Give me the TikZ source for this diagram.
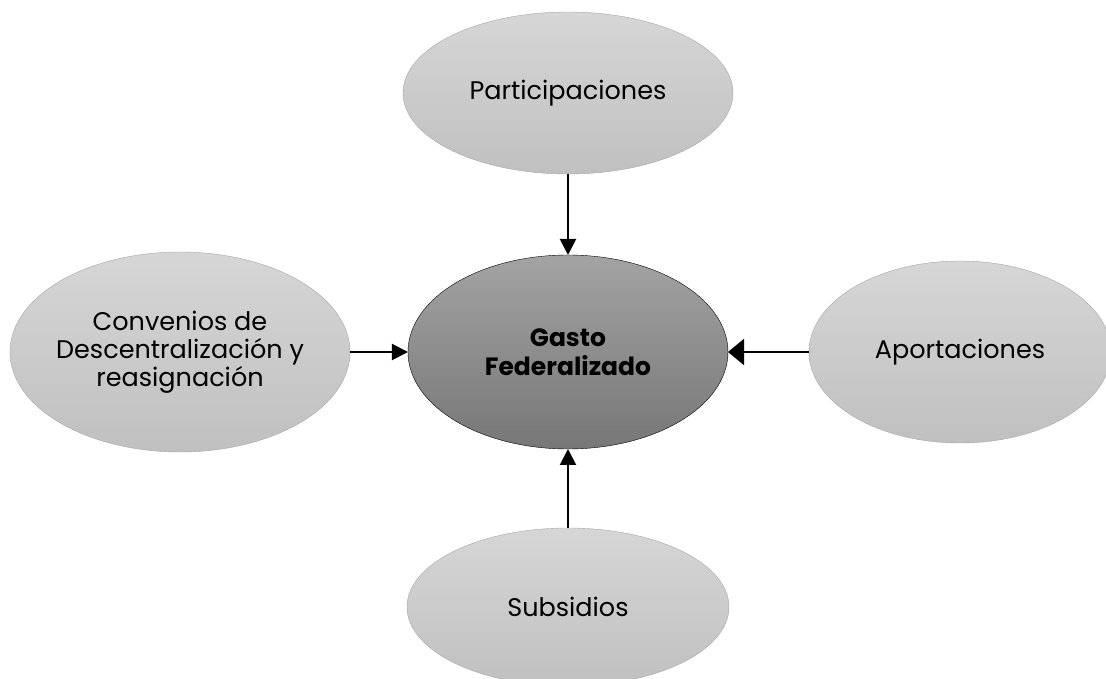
\documentclass[tikz,border=0pt]{standalone}
\usepackage{fontspec}
\setmainfont{Poppins}
\usepackage{tikz}
\usepackage{tkz-graph}
\usetikzlibrary{shapes.geometric,arrows.meta}
\definecolor{sourceTop}{HTML}{D6D6D6}
\definecolor{sourceBottom}{HTML}{C0C0C0}
\definecolor{sourceBorder}{HTML}{A6A6A6}
\definecolor{hubTop}{HTML}{A3A3A3}
\definecolor{hubBottom}{HTML}{777777}
\tikzset{
	every source/.style={
		ellipse,
		draw=sourceBorder,
		top color=sourceTop,
		bottom color=sourceBottom,
		inner sep=0pt,
		align=center,
		text=black,
		font=\fontsize{25.5}{28}\selectfont
	},
	every hub/.style={
		ellipse,
		draw=black,
		top color=hubTop,
		bottom color=hubBottom,
		minimum width=320pt,
		minimum height=194pt,
		inner sep=0pt,
		align=center,
		text=black,
		font=\fontsize{25}{29}\selectfont\bfseries
	},
}

\begin{document}
\begin{tikzpicture}[x=1pt,y=1pt]
\SetVertexNoMath
\useasboundingbox (-568,-327) rectangle (538,352);
\tikzset{VertexStyle/.style = {every source, minimum width=330pt, minimum height=162pt}}
\tikzset{EdgeStyle/.style = {line width=2pt, -{Triangle[length=16pt,width=16pt]}}}

\Vertex[x=0,y=259,L=Participaciones]{participaciones}
\tikzset{VertexStyle/.style = {every source, inner xsep=-10pt, minimum width=340pt, minimum height=200pt}}
\Vertex[x=-388,y=0,L={Convenios de\\Descentralización y\\reasignación}]{convenios}
\tikzset{VertexStyle/.style = {every source, minimum width=302pt, minimum height=182pt}}
\Vertex[x=392,y=0,L=Aportaciones]{aportaciones}
\tikzset{VertexStyle/.style = {every source, minimum width=322pt, minimum height=158pt}}
\Vertex[x=0,y=-255,L=Subsidios]{subsidios}

\tikzset{VertexStyle/.style = {every hub}}
	\Vertex[x=0,y=0,L={Gasto\\Federalizado}]{gastoFederalizado}

\Edge(participaciones)(gastoFederalizado)
\Edge(convenios)(gastoFederalizado)
\Edge(subsidios)(gastoFederalizado)
\tikzset{EdgeStyle/.style = {line width=2pt, -{Triangle[length=16pt,width=26pt]}}}
\Edge(aportaciones)(gastoFederalizado)
\end{tikzpicture}
\end{document}
